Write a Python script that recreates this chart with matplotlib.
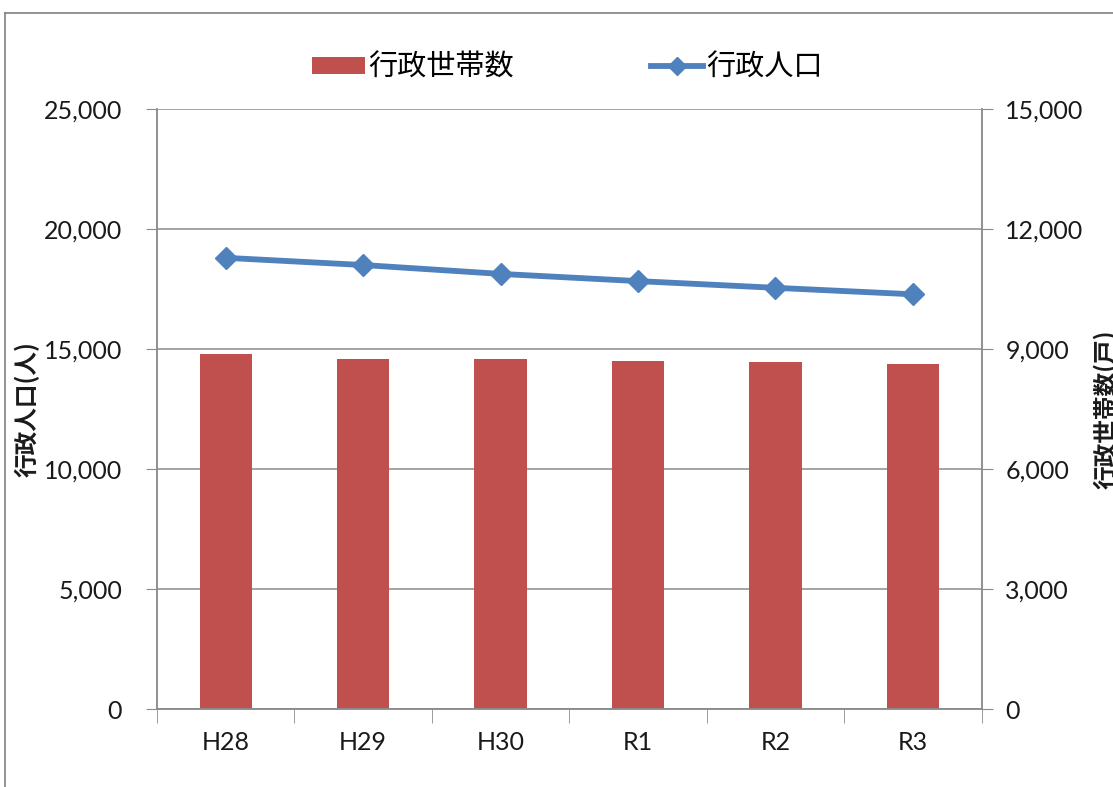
"""
行政人口・行政世帯数の推移グラフ（棒：世帯数 右軸、折れ線：人口 左軸）
"""
import matplotlib
matplotlib.use("Agg")

import matplotlib.pyplot as plt
from matplotlib.lines import Line2D
from matplotlib.patches import Patch
import matplotlib.ticker as mticker
import numpy as np

plt.rcParams["font.family"] = ["Noto Sans CJK JP", "DejaVu Sans"]
plt.rcParams["axes.unicode_minus"] = False

# データ
years = ["H28", "H29", "H30", "R1", "R2", "R3"]
population = [18800, 18500, 18130, 17830, 17550, 17280]   # 行政人口（人）
households = [8870, 8750, 8750, 8710, 8670, 8620]         # 行政世帯数（戸）

BAR_COLOR = "#C0504D"
LINE_COLOR = "#4F81BD"
GRID_COLOR = "#8C8C8C"
TEXT_COLOR = "#1A1A1A"
NUM_FONT = "Lato"

fig = plt.figure(figsize=(11.13, 7.87), dpi=100, facecolor="white")
ax1 = fig.add_axes([0.141, 0.099, 0.741, 0.7625])
ax2 = ax1.twinx()

x = np.arange(len(years))

# 棒グラフ（右軸）
ax2.bar(x, households, width=0.38, color=BAR_COLOR, zorder=2)
ax2.set_ylim(0, 15000)
ax2.yaxis.set_major_locator(mticker.MultipleLocator(3000))
ax2.grid(axis="y", color=GRID_COLOR, linewidth=1.1, zorder=0)
ax2.set_axisbelow(True)

# 折れ線（左軸）は棒より手前に
ax1.set_zorder(ax2.get_zorder() + 1)
ax1.patch.set_visible(False)
ax1.plot(x, population, color=LINE_COLOR, linewidth=4.2, marker="D",
         markersize=11, zorder=3)
ax1.set_ylim(0, 25000)
ax1.yaxis.set_major_locator(mticker.MultipleLocator(5000))

fmt = mticker.FuncFormatter(lambda v, _: f"{int(v):,}")
ax1.yaxis.set_major_formatter(fmt)
ax2.yaxis.set_major_formatter(fmt)

ax1.set_xlim(-0.5, len(years) - 0.5)
ax1.set_xticks(x)
ax1.set_xticklabels(years)
ax1.set_xticks(np.arange(-0.5, len(years)), minor=True)
ax1.tick_params(axis="x", which="major", length=0, pad=16)
ax1.tick_params(axis="x", which="minor", length=10, color=GRID_COLOR, direction="out")

ax1.tick_params(axis="y", length=8, color=GRID_COLOR, direction="out", pad=17)
ax2.tick_params(axis="y", length=8, color=GRID_COLOR, direction="out", pad=9)

for a in (ax1, ax2):
    for lbl in a.get_yticklabels() + a.get_xticklabels():
        lbl.set_fontfamily(NUM_FONT)
        lbl.set_fontsize(18)
        lbl.set_color(TEXT_COLOR)
    a.spines["top"].set_visible(False)
    for side in ("left", "right", "bottom"):
        a.spines[side].set_color(GRID_COLOR)
        a.spines[side].set_linewidth(1.1)

ax1.set_ylabel("行政人口(人)", fontsize=17, fontweight="bold", color=TEXT_COLOR)
ax1.yaxis.set_label_coords(-0.142, 0.5)
# 右軸ラベルも下から上へ読む向き（右端で切れる位置）
ax2.set_ylabel("行政世帯数(戸)", fontsize=17, fontweight="bold", color=TEXT_COLOR,
               rotation=90)
ax2.yaxis.set_label_coords(1.136, 0.5)

# 凡例
handles = [
    Patch(facecolor=BAR_COLOR, edgecolor="none"),
    Line2D([0], [0], color=LINE_COLOR, linewidth=4.2, marker="D", markersize=9),
]
fig.legend(handles, ["行政世帯数", "行政人口"], loc="center",
           bbox_to_anchor=(0.510, 0.914), ncol=2, frameon=False,
           fontsize=21, handlelength=1.8, handleheight=0.52,
           handletextpad=0.12, columnspacing=4.7)

# 外枠
fig.add_artist(Line2D([0.0045, 0.0045], [0.0, 0.983], transform=fig.transFigure,
                      color="#808080", linewidth=1.2))
fig.add_artist(Line2D([0.0045, 1.0], [0.983, 0.983], transform=fig.transFigure,
                      color="#808080", linewidth=1.2))

fig.savefig("out.png", dpi=100, facecolor="white")
